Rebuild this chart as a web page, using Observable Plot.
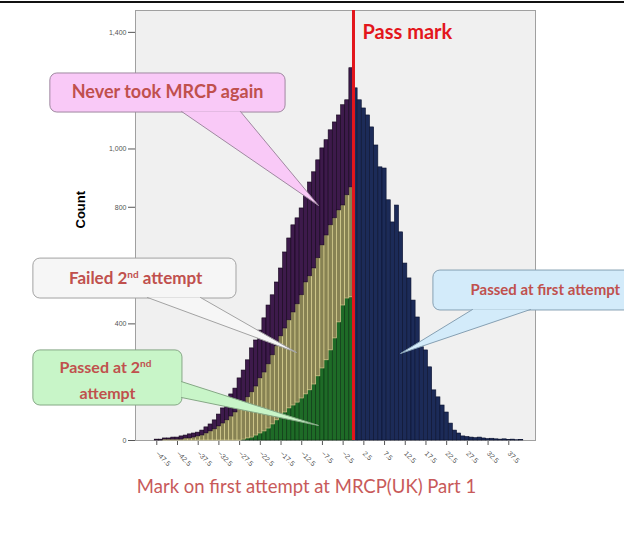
<!DOCTYPE html>
<html><head><meta charset="utf-8">
<script src="https://cdn.jsdelivr.net/npm/d3@7"></script>
<script src="https://cdn.jsdelivr.net/npm/@observablehq/plot@0.6"></script>
<style>
html,body{margin:0;padding:0;background:#fff;overflow:hidden;width:624px;height:540px}
#topline{position:absolute;left:0;top:1px;width:624px;height:2px;background:#111}
</style></head><body>
<div id="chart"></div><div id="topline"></div>
<script>
// ---- data ----
const failBins = [-48,-47,-46,-45,-44,-43,-42,-41,-40,-39,-38,-37,-36,-35,-34,-33,-32,-31,-30,-29,-28,-27,-26,-25,-24,-23,-22,-21,-20,-19,-18,-17,-16,-15,-14,-13,-12,-11,-10,-9,-8,-7,-6,-5,-4,-3,-2,-1];
const passedSecond = [0,0,0,0,0,0,0,0,0,0,0,0,0,0,0,0,0,0,0,0,0,3,7,10,17,24,31,41,55,69,82,96,110,120,130,144,158,172,192,220,247,275,309,350,405,463,487,491];
const failedSecond = [0,0,3,3,3,3,3,7,7,10,14,17,24,31,38,48,58,69,82,96,117,127,141,155,168,189,202,220,237,254,275,288,302,319,337,354,384,391,398,405,422,428,429,412,384,343,354,377];
const neverAgain = [3,3,4,4,7,7,11,10,14,14,13,17,21,24,31,41,52,61,76,82,96,110,127,151,158,164,186,202,206,219,233,261,281,299,295,298,299,322,330,336,333,327,326,329,326,344,326,409];
const passBins = [0,1,2,3,4,5,6,7,8,9,10,11,12,13,14,15,16,17,18,19,20,21,22,23,24,25,26,27,28,29,30,31,32,33,34,35,36,37,38,39,40];
const passedFirst = [1208,1167,1139,1115,1074,1012,937,933,824,748,806,714,607,556,480,422,320,309,251,172,148,120,96,58,34,24,14,12,10,8,10,7,5,6,4,3,4,2,3,1,2];
const xTicks = [-47.5,-42.5,-37.5,-32.5,-27.5,-22.5,-17.5,-12.5,-7.5,-2.5,2.5,7.5,12.5,17.5,22.5,27.5,32.5,37.5];
// ticks visible in the reference (200, 600 and 1,200 are hidden behind the callouts)
const yTicks = [0,400,800,1000,1400];
const passMark = 0;
const passLabel = "Pass mark";
const xTitle = "Mark on first attempt at MRCP(UK) Part 1";
const yTitle = "Count";

// annotation callouts (anchored in data units)
const callouts = [
  {lines: ["Never took MRCP again"], fill: "#f9c9f7", stroke: "#9f88a0", size: 18,
   box: [-73.2, -16.4, 1125, 1259], wedge: [[-41.5, 1128.5], [-8.45, 806], [-27.3, 1128.5]],
   at: [[-44.9, 1194]], anchor: "middle"},
  {lines: ["Failed 2nd attempt"], fill: "#f6f6f6", stroke: "#a3a3a3", size: 17,
   box: [-77.3, -28.25, 487, 624], wedge: [[-49.75, 490.5], [-13.76, 302], [-36.95, 490.5]],
   at: [[-52.6, 556]], anchor: "middle"},
  {lines: ["Passed at 2nd", "attempt"], fill: "#c8f5c8", stroke: "#86a886", size: 16,
   box: [-77.3, -41.3, 120, 309], wedge: [[-41.54, 202], [-8.45, 51.5], [-41.54, 147.5]],
   at: [[-59.9, 250], [-59.4, 161]], anchor: "middle"},
  {lines: ["Passed at first attempt"], fill: "#d3ebfa", stroke: "#86a0b3", size: 15,
   box: [19.3, 74, 446, 583], wedge: [[28.74, 449.4], [11.35, 298.4], [42.74, 449.4]],
   at: [[28.25, 514.5]], anchor: "start"}
];

// ---- build stacks ----
const p2 = [], f2 = [], nv = [], pf = [];
failBins.forEach((b, i) => {
  const a = passedSecond[i], c = failedSecond[i], n = neverAgain[i];
  p2.push({x1: b, x2: b + 1, y1: 0, y2: a});
  f2.push({x1: b, x2: b + 1, y1: a, y2: a + c});
  nv.push({x1: b, x2: b + 1, y1: a + c, y2: a + c + n});
});
passBins.forEach((b, i) => pf.push({x1: b, x2: b + 1, y1: 0, y2: passedFirst[i]}));

const bar = (data, fill, stroke) => Plot.rect(data, {x1: "x1", x2: "x2", y1: "y1", y2: "y2", fill, stroke, strokeWidth: 0.6});

const calloutMarks = [];
for (const c of callouts) {
  calloutMarks.push(Plot.rect([c.box], {x1: d => d[0], x2: d => d[1], y1: d => d[2], y2: d => d[3], fill: c.fill, stroke: c.stroke, strokeWidth: 1, rx: 7}));
  calloutMarks.push(Plot.line(c.wedge, {x: d => d[0], y: d => d[1], fill: c.fill, stroke: c.stroke, strokeWidth: 1, curve: "linear"}));
  c.lines.forEach((t, i) => {
    calloutMarks.push(Plot.text([t], {x: () => c.at[i][0], y: () => c.at[i][1], text: d => d, textAnchor: c.anchor, fill: "#c0504d", fontSize: c.size, fontWeight: "bold", fontFamily: "Lato"}));
  });
}

const svg = Plot.plot({
  width: 624, height: 540,
  marginLeft: 135, marginRight: 89, marginTop: 10, marginBottom: 100,
  style: {fontFamily: "Liberation Sans", fontSize: "7px", color: "#555", background: "transparent", overflow: "hidden"},
  x: {domain: [-52.64, 43.95], ticks: xTicks, tickFormat: d3.format(".1f"), tickRotate: 45, tickSize: 5, label: null},
  y: {domain: [0, 1475], ticks: yTicks, tickFormat: d3.format(","), tickSize: 7, tickPadding: 2, label: null},
  marks: [
    Plot.frame({fill: "#f0f0f0", stroke: "#a0a0a0"}),
    bar(p2, "#1e6b27", "#0b3311"),
    bar(f2, "#878253", "#e0d894"),
    bar(nv, "#3d1a4b", "#14061b"),
    bar(pf, "#1c2b58", "#0a1230"),
    Plot.ruleX([passMark], {stroke: "#e3161c", strokeWidth: 3}),
    Plot.text([passLabel], {x: passMark, y: 1400, dx: 9, text: d => d, textAnchor: "start", fill: "#e3161c", fontSize: 20, fontWeight: "bold", fontFamily: "Lato"}),
    ...calloutMarks,
    Plot.text([yTitle], {frameAnchor: "left", text: d => d, rotate: -90, dx: -55, dy: 3, fill: "#000", fontSize: 13, fontWeight: "bold", fontFamily: "Liberation Sans"}),
    Plot.text([xTitle], {frameAnchor: "bottom", text: d => d, dx: -29, dy: 52, fill: "#c85a5a", fontSize: 18.5, fontFamily: "Lato"})
  ]
});

// superscript "nd" in the callout texts
(function() {
  const ns = "http://www.w3.org/2000/svg";
  svg.querySelectorAll("text").forEach(t => {
    if (t.textContent.includes("2nd") && t.querySelector("tspan") == null) {
      const [a, b] = t.textContent.split("2nd");
      t.textContent = "";
      const t1 = document.createElementNS(ns, "tspan"); t1.textContent = a + "2";
      const t2 = document.createElementNS(ns, "tspan"); t2.textContent = "nd";
      t2.setAttribute("dy", "-6"); t2.setAttribute("font-size", "10");
      const t3 = document.createElementNS(ns, "tspan"); t3.textContent = b; t3.setAttribute("dy", "6");
      t.append(t1, t2, t3);
    }
  });
})();
document.getElementById("chart").append(svg);
</script></body></html>
